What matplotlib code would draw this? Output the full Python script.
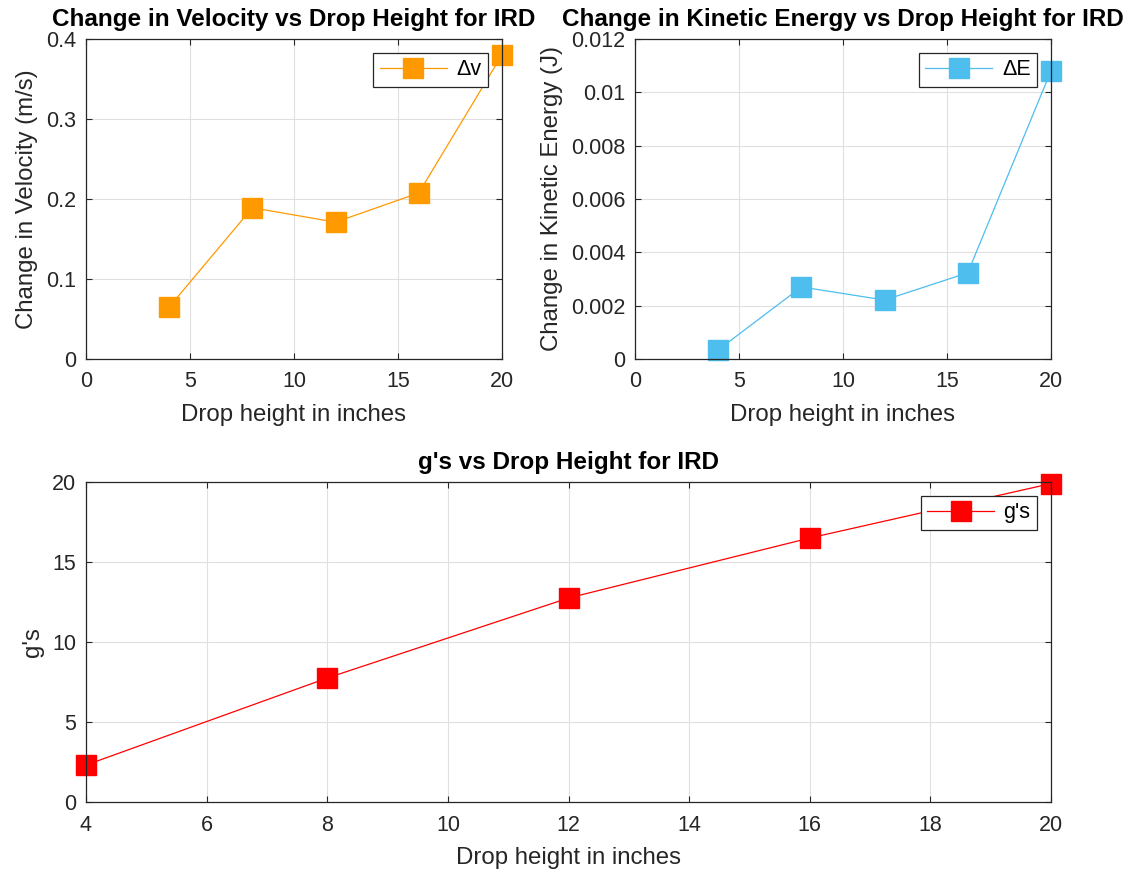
import matplotlib
matplotlib.use("Agg")
import matplotlib.pyplot as plt

plt.rcParams['font.family'] = ['Liberation Sans', 'DejaVu Sans']

heights = [4, 8, 12, 16, 20]
delta_v = [0.065, 0.189, 0.171, 0.2075, 0.38]
delta_ke = [0.00034, 0.0027, 0.00221, 0.00323, 0.0108]
g_values = [2.31, 7.75, 12.75, 16.5, 19.9]

top_xticks = [0, 5, 10, 15, 20]
v_yticks = [0, 0.1, 0.2, 0.3, 0.4]
ke_yticks = [0, 0.002, 0.004, 0.006, 0.008, 0.01, 0.012]
g_xticks = [4, 6, 8, 10, 12, 14, 16, 18, 20]
g_yticks = [0, 5, 10, 15, 20]

orange = '#FF9900'
blue = '#4DBEEE'
red = '#FF0000'
axcol = '#262626'

fig = plt.figure(figsize=(11.39, 8.73), dpi=100)
ax1 = fig.add_axes([0.0755, 0.5888, 0.3652, 0.3666])
ax2 = fig.add_axes([0.5575, 0.5888, 0.3652, 0.3666])
ax3 = fig.add_axes([0.0755, 0.0813, 0.8473, 0.3666])


def style(ax, xticks, yticks, xlim, ylim, title, xlabel, ylabel):
    ax.set_xlim(*xlim)
    ax.set_ylim(*ylim)
    ax.set_xticks(xticks)
    ax.set_yticks(yticks)
    ax.set_yticklabels([f'{t:g}' for t in yticks])
    ax.grid(True, color='#E0E0E0', linewidth=0.8)
    ax.set_axisbelow(True)
    ax.tick_params(direction='in', top=True, right=True, labelsize=15.5,
                   colors=axcol, length=4, width=0.8)
    ax.tick_params(axis='x', pad=9)
    ax.tick_params(axis='y', pad=7)
    for s in ax.spines.values():
        s.set_color(axcol)
        s.set_linewidth(0.9)
    ax.set_title(title, fontsize=17.5, fontweight='bold', pad=9.5)
    ax.set_xlabel(xlabel, fontsize=17.3, color=axcol, labelpad=8)
    ax.set_ylabel(ylabel, fontsize=17.3, color=axcol, labelpad=6)


def legend(ax):
    leg = ax.legend(loc='upper right', fontsize=15.5, fancybox=False,
                    framealpha=1, edgecolor=axcol, handlelength=3.1,
                    handletextpad=0.45, borderaxespad=0.65, borderpad=0.3)
    leg.get_frame().set_linewidth(0.9)


ax1.plot(heights, delta_v, '-s', color=orange, linewidth=0.9,
         markersize=14, markeredgecolor=orange, label='\u0394v')
style(ax1, top_xticks, v_yticks, (0, 20), (0, 0.4),
      'Change in Velocity vs Drop Height for IRD',
      'Drop height in inches', 'Change in Velocity (m/s)')
legend(ax1)

ax2.plot(heights, delta_ke, '-s', color=blue, linewidth=0.9,
         markersize=14, markeredgecolor=blue, label='\u0394E')
style(ax2, top_xticks, ke_yticks, (0, 20), (0, 0.012),
      'Change in Kinetic Energy vs Drop Height for IRD',
      'Drop height in inches', 'Change in Kinetic Energy (J)')
legend(ax2)

ax3.plot(heights, g_values, '-s', color=red, linewidth=0.9,
         markersize=14, markeredgecolor=red, label="g's")
style(ax3, g_xticks, g_yticks, (4, 20), (0, 20),
      "g's vs Drop Height for IRD",
      'Drop height in inches', "g's")
legend(ax3)

for ax in (ax1, ax2, ax3):
    for line in ax.get_lines():
        line.set_clip_on(False)

fig.savefig('out.png', dpi=100, facecolor='white')
